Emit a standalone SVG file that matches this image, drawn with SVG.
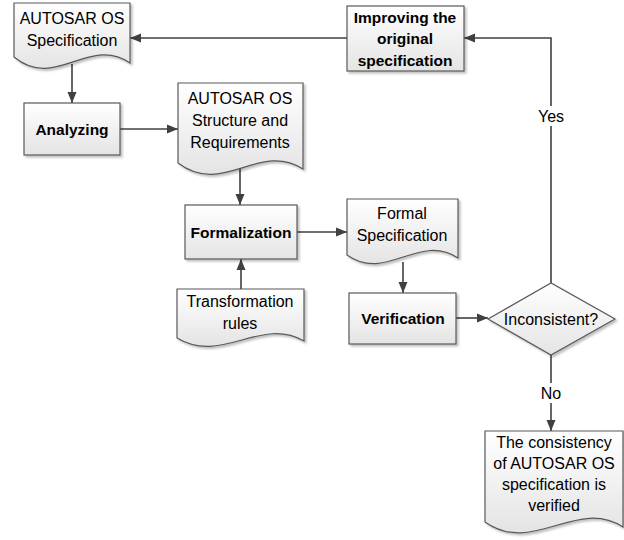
<svg xmlns="http://www.w3.org/2000/svg" width="624" height="540" viewBox="0 0 624 540">
<defs>
<linearGradient id="g" x1="0" y1="0" x2="0" y2="1">
<stop offset="0" stop-color="#ffffff"/>
<stop offset="1" stop-color="#e4e4e4"/>
</linearGradient>
<filter id="sh" x="-10%" y="-10%" width="130%" height="130%">
<feDropShadow dx="2" dy="2" stdDeviation="1" flood-color="#000" flood-opacity="0.25"/>
</filter>
<marker id="ah" markerUnits="userSpaceOnUse" markerWidth="12" markerHeight="12" viewBox="0 0 12 12" refX="11" refY="6" orient="auto">
<path d="M0,1.5 L11,6 L0,10.5 Z" fill="#404040"/>
</marker>
</defs>
<style>
.n{fill:url(#g);stroke:#595959;stroke-width:1.2;filter:url(#sh)}
.t{font-family:"Liberation Sans",Arial,sans-serif;font-size:16px;fill:#000;text-anchor:middle}
.b{font-weight:bold;font-size:15.5px}
.c{fill:none;stroke:#404040;stroke-width:1.6;marker-end:url(#ah)}
.lb{font-family:"Liberation Sans",Arial,sans-serif;font-size:16px;fill:#000;text-anchor:middle}
</style>
<g id="connectors">
<path class="c" d="M72,64 V103"/>
<path class="c" d="M120,129 H178"/>
<path class="c" d="M240,168 V205"/>
<path class="c" d="M297,232 H347"/>
<path class="c" d="M241,289 V259"/>
<path class="c" d="M403,262 V293"/>
<path class="c" d="M456,318 H488"/>
<path class="c" d="M551,283 V38 H464"/>
<path class="c" d="M347,38 H130"/>
<path class="c" d="M551,355 V431"/>
<rect x="536" y="106" width="30" height="20" fill="#fff"/>
<text class="lb" x="551" y="122">Yes</text>
<rect x="539" y="383" width="24" height="20" fill="#fff"/>
<text class="lb" x="551" y="399">No</text>
</g>
<g id="doc-autosar-spec">
<path class="n" d="M14,3 H130 V63 C89,35 55,91 14,57 Z"/>
<text class="t" x="72" y="24">AUTOSAR OS</text>
<text class="t" x="72" y="46">Specification</text>
</g>
<g id="analyzing">
<rect class="n" x="24" y="103" width="96" height="52"/>
<text class="t b" x="72" y="135">Analyzing</text>
</g>
<g id="doc-structure">
<path class="n" d="M178,83 H303 V169 C259,141 223,197 178,163 Z"/>
<text class="t" x="240" y="104">AUTOSAR OS</text>
<text class="t" x="240" y="126">Structure and</text>
<text class="t" x="240" y="148">Requirements</text>
</g>
<g id="formalization">
<rect class="n" x="185" y="205" width="112" height="54"/>
<text class="t b" x="241" y="238">Formalization</text>
</g>
<g id="doc-formal-spec">
<path class="n" d="M347,199 H458 V258 C419,232 386,283 347,255 Z"/>
<text class="t" x="402" y="219">Formal</text>
<text class="t" x="402" y="241">Specification</text>
</g>
<g id="doc-transformation">
<path class="n" d="M177,289 H304 V341 C260,316 222,365 177,338 Z"/>
<text class="t" x="240" y="307">Transformation</text>
<text class="t" x="240" y="329">rules</text>
</g>
<g id="verification">
<rect class="n" x="349" y="293" width="107" height="51"/>
<text class="t b" x="403" y="324">Verification</text>
</g>
<g id="decision">
<path class="n" d="M488,319 L551,283 L615,319 L551,355 Z"/>
<text class="t" x="551" y="325">Inconsistent?</text>
</g>
<g id="improving">
<rect class="n" x="347" y="6" width="117" height="65"/>
<text class="t b" x="405" y="23">Improving the</text>
<text class="t b" x="405" y="44">original</text>
<text class="t b" x="405" y="66">specification</text>
</g>
<g id="doc-verified">
<path class="n" d="M485,431 H623 V527 C576,497 533,556 485,522 Z"/>
<text class="t" x="554" y="448">The consistency</text>
<text class="t" x="554" y="469">of AUTOSAR OS</text>
<text class="t" x="554" y="490">specification is</text>
<text class="t" x="554" y="511">verified</text>
</g>
</svg>
